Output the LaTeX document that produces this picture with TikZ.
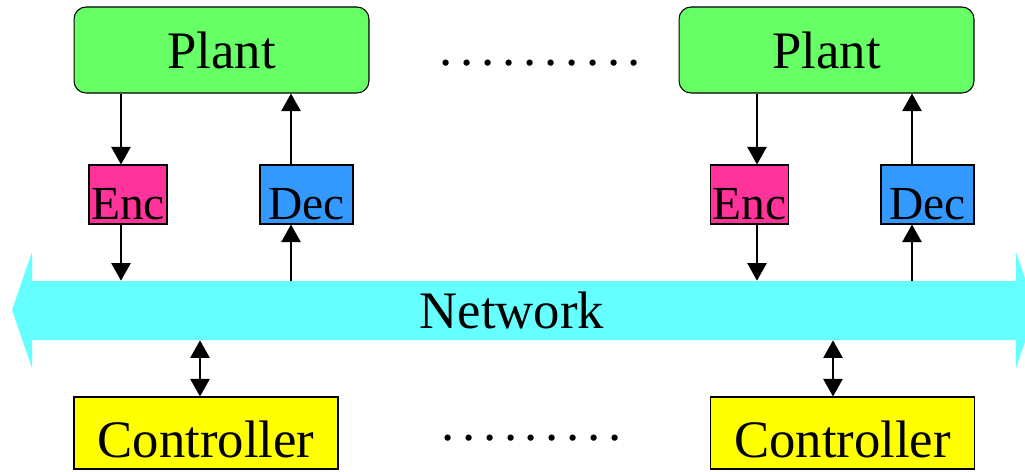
\documentclass[tikz,border=0pt]{standalone}
\usepackage{fontspec}
\setmainfont{Liberation Serif}
\usepackage{tikz}
\usetikzlibrary{calc}
\usetikzlibrary{positioning}
\usetikzlibrary{arrows.meta}

\definecolor{plantgreen}{HTML}{66FF66}
\definecolor{encpink}{HTML}{FF3399}
\definecolor{decblue}{HTML}{3399FF}
\definecolor{netcyan}{HTML}{66FFFF}
\definecolor{ctrlyellow}{HTML}{FFFF00}

\newcommand{\dotgap}{\hspace{4.4pt}}
\newcommand{\bigfont}{\fontsize{30}{36}\selectfont}
\newcommand{\smallfont}{\fontsize{27}{32}\selectfont}

\begin{document}
\begin{tikzpicture}
		[
		x=0.02cm, y=-0.02cm,
		>={Triangle[length=10pt,width=11pt]},
		link/.style={draw,line width=0.85pt}
		]
		
		% Box styles: plant, coder and controller
		\tikzstyle{plant box}=[draw,line width=0.6pt,rounded corners=0.24cm,fill=plantgreen,minimum width=5.9cm,minimum height=1.72cm,inner sep=0,font=\bigfont];
		\tikzstyle{enc box}=[draw,line width=0.6pt,fill=encpink,minimum width=1.56cm,minimum height=1.18cm,inner sep=0,text height=28.9pt,text depth=0pt,font=\smallfont];
		\tikzstyle{dec box}=[draw,line width=0.6pt,fill=decblue,minimum width=1.86cm,minimum height=1.18cm,inner sep=0,text height=28.9pt,text depth=0pt,font=\smallfont];
		\tikzstyle{ctrl box}=[draw,line width=0.6pt,fill=ctrlyellow,minimum width=5.28cm,minimum height=1.44cm,inner sep=0,text height=28pt,text depth=0pt,font=\bigfont];
		
		\useasboundingbox (0,0) rectangle (1025,471);
		
		% The network (a wide double arrow)
		\fill[netcyan] (12,310) -- (32,252) -- (32,281) -- (1016,281) -- (1016,252)
			-- (1036,310) -- (1016,368) -- (1016,340) -- (32,340) -- (32,368) -- cycle;
		\node(net)[minimum width=19.68cm,minimum height=1.18cm,inner sep=0,font=\bigfont]at(512,310.5){Network};
		
		% Plants
		\node(plantA)[plant box]at(221.5,50){Plant};
		\node(plantB)[plant box]at(826.5,50){Plant};
		
		% Encoders and decoders
		\node(encA)[enc box]at(128,194.5){Enc};
		\node(decA)[dec box]at(306.5,194.5){Dec};
		\node(encB)[enc box]at(749.5,194.5){Enc};
		\node(decB)[dec box]at(927.5,194.5){Dec};
		
		% Controllers
		\node(ctrlA)[ctrl box]at(206,433){Controller};
		\node(ctrlB)[ctrl box]at(842.5,433){Controller};
		
		% Dots
		\node(dotsTop)[anchor=base,font=\bigfont,inner sep=0]at(540.5,65){.\dotgap.\dotgap.\dotgap.\dotgap.\dotgap.\dotgap.\dotgap.\dotgap.\dotgap.};
		\node(dotsBot)[anchor=base,font=\bigfont,inner sep=0]at(531.5,440){.\dotgap.\dotgap.\dotgap.\dotgap.\dotgap.\dotgap.\dotgap.\dotgap.};
		
		% Plant -> Enc -> Network
		\draw[link,->]([xshift=-0.14cm]encA.north |- plantA.south)--([xshift=-0.14cm]encA.north);
		\draw[link,->]([xshift=-0.14cm]encA.south)--([xshift=-0.14cm]encA.south |- net.north);
		\draw[link,->]([xshift=0.15cm]encB.north |- plantB.south)--([xshift=0.15cm]encB.north);
		\draw[link,->]([xshift=0.15cm]encB.south)--([xshift=0.15cm]encB.south |- net.north);
		
		% Network -> Dec -> Plant
		\draw[link,->]([xshift=-0.31cm]decA.south |- net.north)--([xshift=-0.31cm]decA.south);
		\draw[link,->]([xshift=-0.31cm]decA.north)--([xshift=-0.31cm]decA.north |- plantA.south);
		\draw[link,->]([xshift=-0.31cm]decB.south |- net.north)--([xshift=-0.31cm]decB.south);
		\draw[link,->]([xshift=-0.31cm]decB.north)--([xshift=-0.31cm]decB.north |- plantB.south);
		
		% Network <-> Controller
		\draw[link,<->]([xshift=-0.12cm]ctrlA.north |- net.south)--([xshift=-0.12cm]ctrlA.north);
		\draw[link,<->]([xshift=-0.19cm]ctrlB.north |- net.south)--([xshift=-0.19cm]ctrlB.north);
		\end{tikzpicture}
\end{document}
